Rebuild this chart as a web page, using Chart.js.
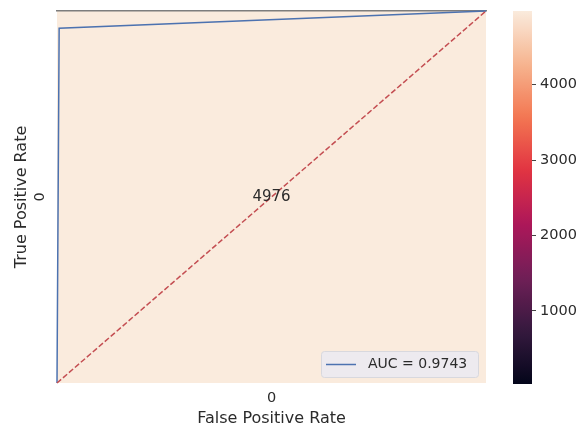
<!DOCTYPE html>
<html>
<head>
<meta charset="utf-8">
<script src="https://cdn.jsdelivr.net/npm/chart.js@4.4.1/dist/chart.umd.min.js"></script>
<style>
  html, body { margin: 0; padding: 0; background: #ffffff; }
  #wrap { position: relative; width: 586px; height: 432px; }
  #c1 { position: absolute; left: 0; top: 0; }
  #c2 { position: absolute; left: 500px; top: 0; }
</style>
</head>
<body>
<div id="wrap">
  <canvas id="c1" width="500" height="432"></canvas>
  <canvas id="c2" width="86" height="432"></canvas>
</div>
<script>
// Heatmap cell and colour scale
const cellValue = 4976;
const colorMin = 30;
const colorMax = 4976;
const colorTicks = [1000, 2000, 3000, 4000];

// Axis tick labels of the single heatmap cell
const xTickLabels = ['0'];
const yTickLabels = ['0'];

// ROC curve
const fpr = [0, 0.005, 1];
const tpr = [0, 0.9535, 1];
const aucLabel = 'AUC = 0.9743';

// Chance diagonal
const chanceX = [0, 1];
const chanceY = [0, 1];

const TEXT = '#2b2b2b';
const FAMILY = "'DejaVu Sans', sans-serif";
Chart.defaults.font.family = FAMILY;
Chart.defaults.font.size = 14.5;
Chart.defaults.color = TEXT;

// "rocket" colour map stops
const rocketStops = [
  [0.0, '#03051a'], [1/7, '#35193e'], [2/7, '#701f57'], [3/7, '#ad1759'],
  [4/7, '#e13342'], [5/7, '#f37651'], [6/7, '#f6b48f'], [1.0, '#faebdd']
];
function hexRgb(h) { return [1, 3, 5].map(i => parseInt(h.slice(i, i + 2), 16)); }
function rocket(t) {
  t = Math.max(0, Math.min(1, t));
  for (let i = 1; i < rocketStops.length; i++) {
    const [t1, c1] = rocketStops[i];
    const [t0, c0] = rocketStops[i - 1];
    if (t <= t1) {
      const f = (t - t0) / (t1 - t0);
      const a = hexRgb(c0), b = hexRgb(c1);
      return 'rgb(' + a.map((v, k) => Math.round(v + (b[k] - v) * f)).join(',') + ')';
    }
  }
  return rocketStops[rocketStops.length - 1][1];
}

const toPoints = (xs, ys) => xs.map((x, i) => ({ x: x, y: ys[i] }));

// keep the plot area edges where the layout padding puts them
function noEdgePadding(s) {
  s.paddingTop = 0; s.paddingBottom = 0; s.paddingLeft = 0; s.paddingRight = 0;
}

const heatCell = {
  id: 'heatCell',
  beforeDraw(chart) {
    const { ctx, scales: { x, y } } = chart;
    const x0 = x.getPixelForValue(0), x1 = x.getPixelForValue(1);
    const y0 = y.getPixelForValue(1), y1 = y.getPixelForValue(0);
    ctx.save();
    ctx.fillStyle = rocket((cellValue - colorMin) / (colorMax - colorMin));
    ctx.fillRect(x0, y0, x1 - x0, y1 - y0);
    ctx.restore();
  },
  afterDatasetsDraw(chart) {
    const { ctx, scales: { x, y } } = chart;
    ctx.save();
    ctx.fillStyle = TEXT;
    ctx.font = "15px 'DejaVu Sans'";
    ctx.textAlign = 'center';
    ctx.textBaseline = 'middle';
    ctx.fillText(String(cellValue), x.getPixelForValue(0.5), y.getPixelForValue(0.5));
    ctx.restore();
  }
};

const boxLegend = {
  id: 'boxLegend',
  afterDraw(chart) {
    const ds = chart.data.datasets.find(d => d.label === aucLabel);
    const { ctx, chartArea: a } = chart;
    const w = 157, h = 26;
    const bx = a.right - 8 - w, by = a.bottom - 6 - h;
    ctx.save();
    ctx.beginPath();
    ctx.roundRect(bx + 0.5, by + 0.5, w, h, 3);
    ctx.fillStyle = 'rgba(234,234,242,0.85)';
    ctx.fill();
    ctx.strokeStyle = '#d8d8de';
    ctx.lineWidth = 1;
    ctx.stroke();
    const ly = by + h / 2 + 0.5;
    ctx.beginPath();
    ctx.moveTo(bx + 5, ly);
    ctx.lineTo(bx + 35, ly);
    ctx.strokeStyle = ds.borderColor;
    ctx.lineWidth = 1.5;
    ctx.stroke();
    ctx.fillStyle = TEXT;
    ctx.font = "14px 'DejaVu Sans'";
    ctx.textAlign = 'left';
    ctx.textBaseline = 'middle';
    ctx.fillText(ds.label, bx + 47, ly);
    ctx.restore();
  }
};

new Chart(document.getElementById('c1'), {
  type: 'line',
  data: {
    datasets: [
      {
        label: 'chance',
        data: toPoints(chanceX, chanceY),
        borderColor: '#c44e52',
        borderWidth: 1.5,
        borderDash: [5.5, 2.4],
        pointRadius: 0,
        clip: false
      },
      {
        label: aucLabel,
        data: toPoints(fpr, tpr),
        borderColor: '#4c72b0',
        borderWidth: 1.5,
        pointRadius: 0,
        clip: false
      }
    ]
  },
  options: {
    responsive: false,
    animation: false,
    layout: { padding: { top: 11, right: 14, left: 0, bottom: 0 } },
    plugins: { legend: { display: false }, tooltip: { enabled: false } },
    scales: {
      x: {
        type: 'linear', min: 0, max: 1, position: 'bottom',
        grid: { display: false, drawTicks: false },
        border: { display: false },
        afterBuildTicks: s => { s.ticks = [{ value: 0.5 }]; },
        afterFit: s => { s.height = 49; noEdgePadding(s); },
        ticks: { padding: 7, callback: () => xTickLabels[0], maxRotation: 0 },
        title: { display: true, text: 'False Positive Rate', font: { size: 16 }, padding: { top: 0, bottom: 4 } }
      },
      x2: {
        type: 'linear', min: 0, max: 1, position: 'top',
        grid: { display: false, drawTicks: false },
        border: { display: true, color: '#7d7d7d', width: 1.5 },
        ticks: { display: false },
        afterFit: s => { s.height = 0; noEdgePadding(s); }
      },
      y: {
        type: 'linear', min: 0, max: 1, position: 'left',
        grid: { display: false, drawTicks: false },
        border: { display: false },
        afterBuildTicks: s => { s.ticks = [{ value: 0.5 }]; },
        afterFit: s => { s.width = 57; noEdgePadding(s); },
        ticks: { padding: 12, minRotation: 90, maxRotation: 90, crossAlign: 'center', callback: () => yTickLabels[0] },
        title: { display: true, text: 'True Positive Rate', font: { size: 16 }, padding: { top: 12, bottom: 0 } }
      }
    }
  },
  plugins: [heatCell, boxLegend]
});

// Colour bar
new Chart(document.getElementById('c2'), {
  type: 'bar',
  data: {
    labels: ['scale'],
    datasets: [{
      data: [[colorMin, colorMax]],
      barPercentage: 1,
      categoryPercentage: 1,
      borderWidth: 0,
      backgroundColor: ctx => {
        const a = ctx.chart.chartArea;
        if (!a) return '#faebdd';
        const g = ctx.chart.ctx.createLinearGradient(0, a.bottom, 0, a.top);
        for (let i = 0; i <= 40; i++) g.addColorStop(i / 40, rocket(i / 40));
        return g;
      }
    }]
  },
  options: {
    responsive: false,
    animation: false,
    layout: { padding: { top: 11, bottom: 48, left: 13, right: 0 } },
    plugins: { legend: { display: false }, tooltip: { enabled: false } },
    scales: {
      x: { display: false },
      y: {
        position: 'right', min: colorMin, max: colorMax,
        grid: { drawOnChartArea: false, tickLength: 4, color: '#444', tickWidth: 1 },
        border: { display: false },
        afterBuildTicks: s => { s.ticks = colorTicks.map(v => ({ value: v })); },
        afterFit: s => { s.width = 54; noEdgePadding(s); },
        ticks: { padding: 4, autoSkip: false, callback: v => String(v) }
      }
    }
  }
});
</script>
</body>
</html>
